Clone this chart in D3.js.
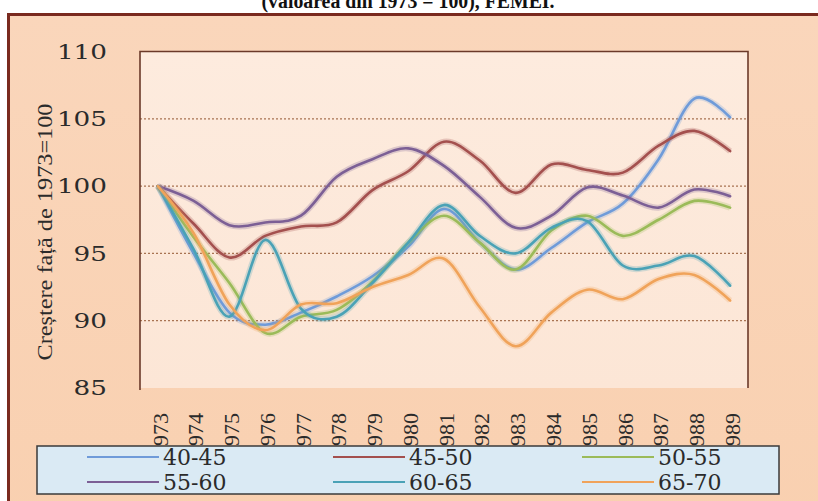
<!DOCTYPE html>
<html>
<head>
<meta charset="utf-8">
<script src="https://cdn.jsdelivr.net/npm/d3@7"></script>
<style>
  body { margin: 0; background: #fff; }
  svg { display: block; }
</style>
</head>
<body>
<div id="chart"></div>
<script>
// Years on the x axis
const years = d3.range(1973, 1990).map(String);

// Series names (age groups) and colours
const seriesNames = ["40-45", "45-50", "50-55", "55-60", "60-65", "65-70"];
const seriesColors = ["#6f9bd9", "#a4504e", "#9bbb59", "#7c5f95", "#4aa2b6", "#f0a35a"];

// Values (1973 = 100)
const v4045 = [100, 95.0, 90.6, 89.7, 90.6, 91.8, 93.3, 95.5, 98.3, 95.8, 93.8, 95.4, 97.3, 98.7, 102.0, 106.5, 105.1];
const v4550 = [100, 97.2, 94.7, 96.3, 97.0, 97.3, 99.7, 101.1, 103.3, 101.9, 99.5, 101.6, 101.2, 101.0, 103.0, 104.1, 102.6];
const v5055 = [100, 96.2, 92.8, 89.1, 90.3, 90.8, 92.9, 95.8, 97.8, 95.8, 93.8, 96.7, 97.8, 96.3, 97.5, 98.9, 98.4];
const v5560 = [100, 98.9, 97.1, 97.3, 97.8, 100.7, 102.0, 102.8, 101.5, 99.2, 96.9, 97.8, 99.9, 99.3, 98.4, 99.75, 99.25];
const v6065 = [100, 95.3, 90.3, 96.0, 90.9, 90.3, 92.8, 95.8, 98.6, 96.3, 95.0, 96.9, 97.4, 94.1, 94.1, 94.8, 92.6];
const v6570 = [100, 96.5, 91.2, 89.3, 91.2, 91.3, 92.5, 93.4, 94.6, 91.0, 88.1, 90.6, 92.3, 91.6, 93.1, 93.4, 91.5];
const seriesValues = [v4045, v4550, v5055, v5560, v6065, v6570];

// Y axis ticks
const yTicks = [85, 90, 95, 100, 105, 110];
const gridTicks = [90, 95, 100, 105];

const width = 818, height = 501;
const plot = { left: 140, right: 748, top: 51.5, bottom: 388 };

const svg = d3.select("#chart").append("svg")
    .attr("width", width)
    .attr("height", height);

const defs = svg.append("defs");
const outerGrad = defs.append("linearGradient").attr("id", "outerGrad")
    .attr("x1", 0).attr("y1", 0).attr("x2", 0).attr("y2", 1);
outerGrad.append("stop").attr("offset", "0%").attr("stop-color", "#fad6bb");
outerGrad.append("stop").attr("offset", "100%").attr("stop-color", "#f9d0b0");

const plotGrad = defs.append("linearGradient").attr("id", "plotGrad")
    .attr("x1", 0).attr("y1", 0).attr("x2", 0).attr("y2", 1);
plotGrad.append("stop").attr("offset", "0%").attr("stop-color", "#fdebde");
plotGrad.append("stop").attr("offset", "100%").attr("stop-color", "#fce6d6");

// Title (cut off at the top of the picture)
svg.append("text")
    .attr("x", 408)
    .attr("y", 8)
    .attr("text-anchor", "middle")
    .attr("textLength", 293)
    .attr("lengthAdjust", "spacingAndGlyphs")
    .style("font", "bold 20px 'Liberation Serif', serif")
    .style("fill", "#111")
    .text("(valoarea din 1973 = 100), FEMEI.");

// Outer frame
svg.append("rect")
    .attr("x", 8.5).attr("y", 14.5)
    .attr("width", 840).attr("height", 520)
    .attr("fill", "url(#outerGrad)")
    .attr("stroke", "#7a2a1f")
    .attr("stroke-width", 3);

// Plot area
svg.append("rect")
    .attr("x", plot.left).attr("y", plot.top)
    .attr("width", plot.right - plot.left).attr("height", plot.bottom - plot.top)
    .attr("fill", "url(#plotGrad)");

const x = d3.scalePoint().domain(years).range([plot.left, plot.right]).padding(0.5);
const y = d3.scaleLinear().domain([85, 110]).range([plot.bottom, plot.top]);

// Dotted gridlines
svg.append("g")
  .selectAll("line")
  .data(gridTicks)
  .join("line")
    .attr("x1", plot.left).attr("x2", plot.right)
    .attr("y1", d => y(d)).attr("y2", d => y(d))
    .attr("stroke", "#a87352")
    .attr("stroke-width", 1.2)
    .attr("stroke-dasharray", "2,2");

// Plot border (left, top, right)
svg.append("path")
    .attr("d", `M${plot.left},${plot.bottom + 2}V${plot.top}H${plot.right}V${plot.bottom}`)
    .attr("fill", "none")
    .attr("stroke", "#6b3a2a")
    .attr("stroke-width", 1.6);

// Y axis labels
const yAxis = svg.append("g")
    .attr("transform", `translate(${plot.left},0)`)
    .call(d3.axisLeft(y).tickValues(yTicks).tickSize(0).tickPadding(0));
yAxis.select(".domain").remove();
yAxis.selectAll("text")
    .attr("x", null)
    .attr("text-anchor", "end")
    .attr("transform", "translate(-33,0) scale(1.25,1)")
    .style("font", "21px 'DejaVu Serif', serif")
    .style("fill", "#2b2b2b");

// Y axis title
svg.append("text")
    .attr("transform", "translate(52,232) rotate(-90)")
    .attr("text-anchor", "middle")
    .attr("textLength", 257)
    .attr("lengthAdjust", "spacingAndGlyphs")
    .style("font", "22px 'Liberation Serif', serif")
    .style("fill", "#2b2b2b")
    .text("Creștere față de 1973=100");

// X axis labels (rotated)
const xAxis = svg.append("g")
    .attr("transform", `translate(0,${plot.bottom})`)
    .call(d3.axisBottom(x).tickSize(0));
xAxis.select(".domain").remove();
xAxis.selectAll("text")
    .attr("transform", "rotate(-90)")
    .attr("x", -25)
    .attr("y", 1.5)
    .attr("dy", "0.35em")
    .attr("text-anchor", "end")
    .style("font", "22px 'Liberation Serif', serif")
    .style("fill", "#2b2b2b");

// Smoothed lines
const line = d3.line()
    .x((d, i) => x(years[i]))
    .y(d => y(d))
    .curve(d3.curveCardinal.tension(0));

const series = seriesNames.map((name, k) => ({ name, color: seriesColors[k], values: seriesValues[k] }));

const lines = svg.append("g").attr("fill", "none");
series.forEach(s => {
  // soft glow under each line
  lines.append("path")
      .attr("d", line(s.values))
      .attr("stroke", s.color)
      .attr("stroke-opacity", 0.25)
      .attr("stroke-width", 6)
      .attr("stroke-linejoin", "round");
  lines.append("path")
      .attr("d", line(s.values))
      .attr("stroke", s.color)
      .attr("stroke-width", 2.6)
      .attr("stroke-linejoin", "round")
      .attr("stroke-linecap", "round");
});

// Legend
const legend = svg.append("g");
legend.append("rect")
    .attr("x", 37).attr("y", 446)
    .attr("width", 742).attr("height", 48)
    .attr("fill", "#daeaf4")
    .attr("stroke", "#3a3a3a")
    .attr("stroke-width", 1.5);

const colX = [87, 333, 582];
const rowY = [457, 482];
const item = legend.selectAll("g.item")
  .data(series)
  .join("g")
    .attr("class", "item")
    .attr("transform", (d, i) => `translate(${colX[i % 3]},${rowY[Math.floor(i / 3)]})`);
item.append("line")
    .attr("x1", 0).attr("x2", 72)
    .attr("stroke", d => d.color)
    .attr("stroke-width", 2.2);
item.append("text")
    .attr("x", 76)
    .attr("dy", "0.36em")
    .style("font", "22px 'DejaVu Serif', serif")
    .style("fill", "#2b2b2b")
    .text(d => d.name);
</script>
</body>
</html>
